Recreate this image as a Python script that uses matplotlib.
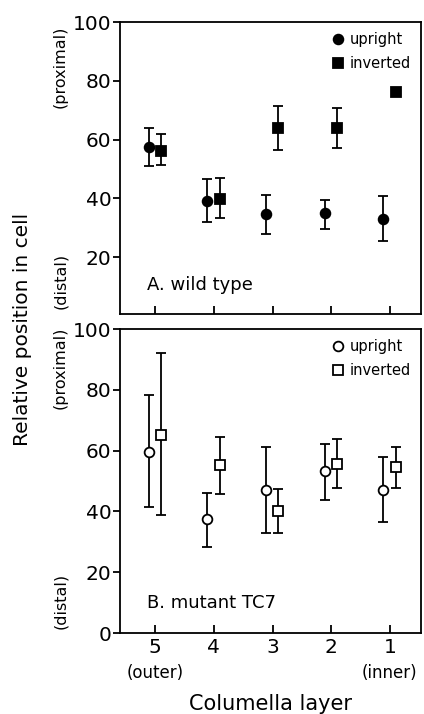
import numpy as np
import matplotlib
matplotlib.use("Agg")
import matplotlib.pyplot as plt
import matplotlib.transforms as mtransforms

plt.rcParams['font.family'] = ['DejaVu Sans']

# Columella layers (5 = outer, 1 = inner)
layers = np.array([5, 4, 3, 2, 1])
layer_labels = ['5', '4', '3', '2', '1']

# A. wild type : mean, lower end, upper end of error bar
wt_up = np.array([57.6, 39.2, 34.6, 35.1, 32.9])
wt_up_lo = np.array([50.9, 32.0, 27.9, 29.5, 25.6])
wt_up_hi = np.array([64.1, 46.6, 41.2, 39.6, 40.8])
wt_inv = np.array([56.1, 39.7, 63.8, 64.0, 76.1])
wt_inv_lo = np.array([51.4, 33.5, 56.4, 57.2, 76.1])
wt_inv_hi = np.array([61.9, 46.8, 71.3, 70.8, 76.1])

# B. mutant TC7
tc_up = np.array([59.6, 37.5, 47.1, 53.2, 47.2])
tc_up_lo = np.array([41.3, 28.4, 33.0, 43.9, 36.5])
tc_up_hi = np.array([78.4, 45.9, 61.2, 62.1, 58.0])
tc_inv = np.array([65.3, 55.3, 40.1, 55.7, 54.7])
tc_inv_lo = np.array([38.9, 45.7, 33.0, 47.8, 47.8])
tc_inv_hi = np.array([92.1, 64.5, 47.4, 63.9, 61.3])

fig = plt.figure(figsize=(4.24, 7.14), dpi=100)
ax1 = fig.add_axes([0.283, 0.560, 0.710, 0.409])
ax2 = fig.add_axes([0.283, 0.1134, 0.710, 0.4258])

off_up = 0.11
off_inv = -0.10


def panel(ax, up, ulo, uhi, inv, ilo, ihi, filled, label, yt):
    fc = 'black' if filled else 'white'
    ax.errorbar(layers + off_up, up, yerr=[up - ulo, uhi - up], fmt='o',
                color='black', mfc=fc, mec='black', mew=1.3, ms=7,
                elinewidth=1.3, capsize=3.5, capthick=1.3, label='upright')
    ax.errorbar(layers + off_inv, inv, yerr=[inv - ilo, ihi - inv], fmt='s',
                color='black', mfc=fc, mec='black', mew=1.3, ms=6.5,
                elinewidth=1.3, capsize=3.5, capthick=1.3, label='inverted')
    ax.set_xlim(5.6, 0.47)
    ax.set_xticks(layers)
    ax.set_yticks(yt)
    ax.tick_params(axis='y', direction='out', length=5, width=1.3,
                   labelsize=14.5, pad=1)
    ax.tick_params(axis='x', direction='in', length=6, width=1.3,
                   labelsize=14.5)
    for s in ax.spines.values():
        s.set_linewidth(1.3)
    h, l = ax.get_legend_handles_labels()
    h = [hh[0] for hh in h]
    ax.legend(h, l, loc='upper right', frameon=False, fontsize=10.5,
              handletextpad=0.3, labelspacing=0.6, borderaxespad=0.4,
              handlelength=1.0, borderpad=0.3)
    ax.text(0.09, 0.1, label, transform=ax.transAxes,
            fontsize=13, va='center', ha='left')


panel(ax1, wt_up, wt_up_lo, wt_up_hi, wt_inv, wt_inv_lo, wt_inv_hi, True,
      'A. wild type', [20, 40, 60, 80, 100])
ax1.set_ylim(0.6, 100)
ax1.set_xticklabels([])

panel(ax2, tc_up, tc_up_lo, tc_up_hi, tc_inv, tc_inv_lo, tc_inv_hi, False,
      'B. mutant TC7', [0, 20, 40, 60, 80, 100])
ax2.set_ylim(0, 100)
ax2.set_xticklabels(layer_labels)

trans = mtransforms.blended_transform_factory(ax2.transData, ax2.transAxes)
ax2.text(5, -0.13, '(outer)', transform=trans, ha='center', va='center',
         fontsize=12)
ax2.text(1, -0.13, '(inner)', transform=trans, ha='center', va='center',
         fontsize=12)
ax2.set_xlabel('Columella layer', fontsize=15, labelpad=27)

fig.text(0.052, 0.538, 'Relative position in cell', rotation=90,
         ha='center', va='center', fontsize=14.5)
fig.text(0.142, 0.906, '(proximal)', rotation=90, ha='center', va='center',
         fontsize=11.5)
fig.text(0.142, 0.606, '(distal)', rotation=90, ha='center', va='center',
         fontsize=11.5)
fig.text(0.142, 0.485, '(proximal)', rotation=90, ha='center', va='center',
         fontsize=11.5)
fig.text(0.142, 0.158, '(distal)', rotation=90, ha='center', va='center',
         fontsize=11.5)

fig.savefig('out.png', dpi=100)
